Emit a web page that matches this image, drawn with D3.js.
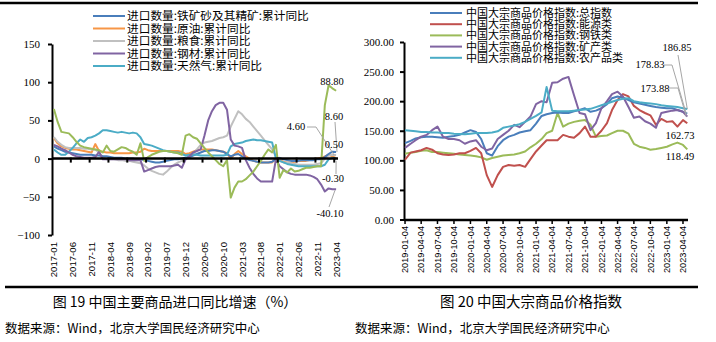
<!DOCTYPE html>
<html><head><meta charset="utf-8">
<script src="https://cdn.jsdelivr.net/npm/d3@7"></script>
<style>
body{margin:0;background:#fff;}
svg{display:block;}
.cjk{font-family:"Noto Sans CJK SC","Noto Sans",sans-serif;}
.num{font-family:"Liberation Serif","Times New Roman",serif;}
.sans{font-family:"Liberation Sans",Arial,sans-serif;}
</style></head>
<body><svg id="c" width="716" height="342"></svg>
<script>
// ---------- LEFT CHART DATA (monthly, 2017-01 .. 2023-04) ----------
const leftTickLabels = ["2017-01","2017-06","2017-11","2018-04","2018-09","2019-02","2019-07","2019-12","2020-05","2020-10","2021-03","2021-08","2022-01","2022-06","2022-11","2023-04"];
const leftYTicks = [-100,-50,0,50,100,150];
const leftNames = ["进口数量:铁矿砂及其精矿:累计同比","进口数量:原油:累计同比","进口数量:粮食:累计同比","进口数量:钢材:累计同比","进口数量:天然气:累计同比"];
const ironOre = [16,13,11,9,8,7,6,5,5,5,5,4,4,3,3,2,1,1,1,0,0,0,-1,-1,-2,-3,-4,-5,-5,-4,-3,-2,-1,-1,0,1,2,4,6,8,10,10,11,11,10,9,6,3,5,6,3,0,-2,-3,-4,-5,-5,-5,-4,-1,1,-1,-2,-3,-3,-3,-2,-2,-2,-2,-1,-1,2,6,9,8.6];
const crudeOil = [27,20,16,14,13,12,12,11,10,9,8,19,10,9,8,8,7,7,7,7,7,8,8,9,13,11,10,10,10,10,10,10,10,10,9,6,7,9,11,12,12,12,12,11,10,9,7,0,6,10,6,3,0,-3,-4,-5,-5,-5,-5,0,-2,-4,-5,-5,-4,-3,-3,-3,-2,-1,0,1,3,5,3,0.5];
const grain = [28,22,18,15,14,14,14,14,13,13,12,12,8,2,-1,-1,-1,-2,-2,-3,-3,-4,-5,-6,-9,-13,-16,-18,-20,-21,-17,-12,-8,-5,-3,0,3,6,12,18,21,22,23,25,27,28,30,42,52,62,58,52,48,42,36,30,24,18,12,3,-3,-5,-5,-6,-7,-8,-8,-8,-8,-8,-7,-6,0,4,5,4.6];
const steel = [18,16,13,11,8,5,3,2,1,1,1,2,9,-1,-1,-1,-1,-1,-1,-1,-2,-2,-2,-2,-17,-15,-13,-11,-10,-10,-10,-10,-9,-8,-12,-1,3,8,10,12,30,50,62,70,73,73,64,25,17,16,14,-2,-12,-20,-26,-30,-30,-30,-30,-1,-10,-14,-18,-20,-21,-21,-21,-21,-22,-24,-27,-34,-43,-39,-40,-40.1];
const natGas = [12,8,5,5,9,14,20,25,22,27,28,30,33,37,37,36,35,34,35,34,33,34,33,28,19,18,17,15,13,11,10,9,8,8,6,4,5,5,5,4,4,4,4,4,4,4,5,16,19,20,21,23,24,25,24,24,23,22,21,0,-3,-5,-7,-8,-9,-10,-10,-10,-10,-10,-10,-10,-8,-1,1,-0.3];
const greenSeries = [65,48,35,34,33,28,22,17,15,14,13,12,11,8,17,10,9,12,15,14,11,9,5,20,-3,2,5,7,9,10,10,9,8,7,5,30,32,28,26,20,14,8,3,-2,-7,-10,-2,-51,-38,-30,-30,-27,-22,-17,-10,-3,5,12,8,18,-25,-15,-18,-13,-17,-16,-14,-12,-12,-11,-10,-10,70,96,92,88.8];
const leftLabels = ["8.60","0.50","4.60","-40.10","-0.30","88.80"];

// ---------- RIGHT CHART DATA (2019-01 .. 2023-04) ----------
const rightTickLabels = ["2019-01-04","2019-04-04","2019-07-04","2019-10-04","2020-01-04","2020-04-04","2020-07-04","2020-10-04","2021-01-04","2021-04-04","2021-07-04","2021-10-04","2022-01-04","2022-04-04","2022-07-04","2022-10-04","2023-01-04","2023-04-04"];
const rightYTicks = [0,50,100,150,200,250,300];
const rightNames = ["中国大宗商品价格指数:总指数","中国大宗商品价格指数:能源类","中国大宗商品价格指数:钢铁类","中国大宗商品价格指数:矿产类","中国大宗商品价格指数:农产品类"];
const rightDates = ["2019-01-04","2019-02-04","2019-03-04","2019-04-04","2019-05-04","2019-06-04","2019-07-04","2019-08-04","2019-09-04","2019-10-04","2019-11-04","2019-12-04",
 "2020-01-04","2020-02-04","2020-03-04","2020-04-04","2020-05-04","2020-06-04","2020-07-04","2020-08-04","2020-09-04","2020-10-04","2020-11-04","2020-12-04",
 "2021-01-04","2021-02-04","2021-03-04","2021-04-04","2021-05-04","2021-06-04","2021-07-04","2021-08-04","2021-09-04","2021-10-04","2021-11-04","2021-12-04",
 "2022-01-04","2022-02-04","2022-03-04","2022-04-04","2022-05-04","2022-06-04","2022-07-04","2022-08-04","2022-09-04","2022-10-04","2022-11-04","2022-12-04",
 "2023-01-04","2023-02-04","2023-03-04","2023-04-04","2023-04-28"];
const totalIdx = [129,133,137,139,140,140,139,138,140,141,143,147,151,148,136,112,108,124,134,140,143,147,149,151,162,175,178,180,181,180,180,183,185,188,182,184,188,195,205,208,206,202,198,196,194,192,190,189,188,188,185,182,178.83];
const energyIdx = [101,113,115,117,121,118,112,110,109,110,112,112,116,121,112,75,55,75,89,92,91,92,89,102,115,125,134,134,134,143,140,138,146,157,140,140,150,163,185,202,212,208,192,185,180,176,160,170,165,166,157,168,162.73];
const steelIdx = [111,113,114,116,117,114,114,113,112,111,110,109,108,107,105,101,104,106,108,109,110,112,115,122,128,136,146,150,180,157,162,165,167,168,160,140,141,142,146,150,150,145,128,123,121,118,119,121,123,127,130,126,118.49];
const mineralIdx = [121,128,134,140,143,151,157,140,136,136,134,128,132,134,123,117,120,136,143,150,160,156,165,174,195,200,198,231,232,238,241,210,180,178,151,163,188,200,212,216,208,190,172,174,166,162,155,180,182,184,185,182,173.88];
const agriIdx = [151,150,149,148,148,147,147,146,146,145,144.5,144,145,146,146,146,147,149,155,157,159,161,165,170,175,181,224,184,183,183,183,184,185,186,187,190,193,196,199,202,204,205,200,198,197,196,195,193,192,191,190,188,186.85];
const rightLabels = ["186.85","178.83","173.88","162.73","118.49"];

// ---------- STYLE ----------
const C = {blue:"#4a7ebb", orange:"#f79646", gray:"#c0c0c0", purple:"#8064a2", cyan:"#4bacc6", green:"#9bbb59", red:"#c0504d"};

const svg = d3.select("#c");
svg.append("rect").attr("width",716).attr("height",342).attr("fill","#fff");

// frame lines
svg.append("line").attr("x1",0).attr("x2",698).attr("y1",3).attr("y2",3).attr("stroke","#000").attr("stroke-width",2.5);
svg.append("line").attr("x1",5).attr("x2",698).attr("y1",287).attr("y2",287).attr("stroke","#000").attr("stroke-width",2.5);

// ================= LEFT =================
const months = d3.range(76).map(i => `${2017+Math.floor(i/12)}-${String(i%12+1).padStart(2,"0")}`);
const xL = d3.scalePoint().domain(months).range([52,338]).padding(0.5);
const yL = d3.scaleLinear().domain([-100,150]).range([235,44]);
const gL = svg.append("g");

const yAxL = gL.append("g").attr("transform","translate(52,0)")
  .call(d3.axisLeft(yL).tickValues(leftYTicks).tickSize(4).tickSizeOuter(0).tickFormat(d3.format("d")));
yAxL.select(".domain").attr("stroke","#000").attr("stroke-width",2);
yAxL.selectAll(".tick line").attr("stroke","#000").attr("stroke-width",2);
yAxL.selectAll("text").attr("class","num").attr("font-size",11).attr("fill","#000").attr("x",-12);

const stepL = xL.step();
gL.selectAll(".xl").data(leftTickLabels).join("text")
  .attr("class","sans").attr("font-size",9.6).attr("fill","#000")
  .attr("text-anchor","end")
  .attr("transform",d=>`translate(${xL(d)+3.5},242) rotate(-90)`)
  .text(d=>d);

const lineL = d3.line().x((d,i)=>xL(months[i])).y(d=>yL(d));
const leftSeries = [
  {v:crudeOil,c:C.orange},{v:grain,c:C.gray},{v:ironOre,c:C.blue},
  {v:natGas,c:C.cyan},{v:steel,c:C.purple},{v:greenSeries,c:C.green}
];
leftSeries.forEach(s=>{
  gL.append("path").datum(s.v).attr("d",lineL).attr("fill","none")
    .attr("stroke",s.c).attr("stroke-width",2).attr("stroke-linejoin","round");
});

gL.append("line").attr("x1",52).attr("x2",338).attr("y1",yL(0)).attr("y2",yL(0)).attr("stroke","#000").attr("stroke-width",2.5);
d3.range(5,76,5).forEach(i=>{
  const x = xL(months[i]) - stepL/2;
  gL.append("line").attr("x1",x).attr("x2",x).attr("y1",yL(0)-1).attr("y2",yL(0)+4).attr("stroke","#000").attr("stroke-width",2);
});

const endX = xL(months[75]);
const annL = [
  {t:"88.80", x:332, y:85, pts:null},
  {t:"8.60",  x:334, y:120, pts:[[335,122],[337,yL(8.6)]]},
  {t:"4.60",  x:296, y:130, pts:[[307,127],[316,127],[endX-2,yL(4.6)]]},
  {t:"0.50",  x:334, y:148, pts:null},
  {t:"-0.30", x:333, y:182, pts:[[336,174],[endX,yL(-0.3)+2]]},
  {t:"-40.10",x:330, y:217, pts:[[335,yL(-40.1)+1],[329,207]]}
];
annL.forEach(a=>{
  if(a.pts) gL.append("polyline").attr("points",a.pts.map(p=>p.join(",")).join(" "))
    .attr("fill","none").attr("stroke","#a6a6a6").attr("stroke-width",1);
  gL.append("text").attr("class","num").attr("font-size",10.5).attr("fill","#000")
    .attr("x",a.x).attr("y",a.y).attr("text-anchor","middle").text(a.t);
});

const legCols = [C.blue,C.orange,C.gray,C.purple,C.cyan];
leftNames.forEach((n,i)=>{
  const y = 16 + i*12.5;
  gL.append("line").attr("x1",93).attr("x2",125).attr("y1",y).attr("y2",y).attr("stroke",legCols[i]).attr("stroke-width",2);
  gL.append("text").attr("class","cjk").attr("font-size",11.7).attr("fill","#000")
    .attr("x",127).attr("y",y+4.3).text(n);
});

// ================= RIGHT =================
const parse = d3.timeParse("%Y-%m-%d");
const dR = rightDates.map(parse);
const xR = d3.scaleTime().domain([parse("2019-01-01"),parse("2023-05-02")]).range([404.5,688]);
const yR = d3.scaleLinear().domain([0,300]).range([219.5,42]);
const gR = svg.append("g");

const yAxR = gR.append("g").attr("transform","translate(404,0)")
  .call(d3.axisLeft(yR).tickValues(rightYTicks).tickSize(4).tickSizeOuter(0).tickFormat(d3.format(".2f")));
yAxR.select(".domain").attr("stroke","#000").attr("stroke-width",2);
yAxR.selectAll(".tick line").attr("stroke","#000").attr("stroke-width",2);
yAxR.selectAll("text").attr("class","num").attr("font-size",11).attr("fill","#000").attr("x",-10);

const lineR = d3.line().x((d,i)=>xR(dR[i])).y(d=>yR(d));
const rightSeries = [
  {v:steelIdx,c:C.green},{v:energyIdx,c:C.red},{v:totalIdx,c:C.blue},
  {v:mineralIdx,c:C.purple},{v:agriIdx,c:C.cyan}
];
rightSeries.forEach(s=>{
  gR.append("path").datum(s.v).attr("d",lineR).attr("fill","none")
    .attr("stroke",s.c).attr("stroke-width",2).attr("stroke-linejoin","round");
});

gR.append("line").attr("x1",404).attr("x2",688).attr("y1",220).attr("y2",220).attr("stroke","#000").attr("stroke-width",2.5);
rightTickLabels.forEach(t=>{
  const x = xR(parse(t));
  gR.append("line").attr("x1",x).attr("x2",x).attr("y1",220).attr("y2",224).attr("stroke","#000").attr("stroke-width",1.5);
});
gR.selectAll(".xr").data(rightTickLabels).join("text")
  .attr("class","sans").attr("font-size",9.2).attr("fill","#000")
  .attr("text-anchor","end")
  .attr("transform",d=>`translate(${xR(parse(d))+3.3},226) rotate(-90)`)
  .text(d=>d);

const endR = xR(dR[dR.length-1]);
const annR = [
  {t:"186.85", x:677, y:51, pts:[[678,55],[endR,yR(186.85)]]},
  {t:"178.83", x:650, y:68, pts:[[664,65],[672,65],[endR-1,yR(178.83)]]},
  {t:"173.88", x:655, y:92, pts:[[669,88],[678,88],[endR-1,yR(173.88)]]},
  {t:"162.73", x:680, y:139, pts:null},
  {t:"118.49", x:680, y:160, pts:null}
];
annR.forEach(a=>{
  if(a.pts) gR.append("polyline").attr("points",a.pts.map(p=>p.join(",")).join(" "))
    .attr("fill","none").attr("stroke","#a6a6a6").attr("stroke-width",1);
  gR.append("text").attr("class","num").attr("font-size",10.5).attr("fill","#000")
    .attr("x",a.x).attr("y",a.y).attr("text-anchor","middle").text(a.t);
});

const legColsR = [C.blue,C.red,C.green,C.purple,C.cyan];
rightNames.forEach((n,i)=>{
  const y = 13 + i*11.2;
  gR.append("line").attr("x1",430).attr("x2",462).attr("y1",y).attr("y2",y).attr("stroke",legColsR[i]).attr("stroke-width",2);
  gR.append("text").attr("class","cjk").attr("font-size",11).attr("fill","#000")
    .attr("x",466).attr("y",y+4).text(n);
});

// ================= CAPTIONS =================
svg.append("text").attr("class","cjk").attr("font-size",14).attr("fill","#000")
  .attr("x",175).attr("y",307).attr("text-anchor","middle").text("图 19 中国主要商品进口同比增速（%）");
svg.append("text").attr("class","cjk").attr("font-size",14.5).attr("fill","#000")
  .attr("x",531).attr("y",307).attr("text-anchor","middle").text("图 20 中国大宗商品价格指数");
svg.append("text").attr("class","cjk").attr("font-size",12.5).attr("fill","#000")
  .attr("x",5).attr("y",333).text("数据来源：Wind，北京大学国民经济研究中心");
svg.append("text").attr("class","cjk").attr("font-size",12.5).attr("fill","#000")
  .attr("x",355).attr("y",333).text("数据来源：Wind，北京大学国民经济研究中心");
</script></body></html>
